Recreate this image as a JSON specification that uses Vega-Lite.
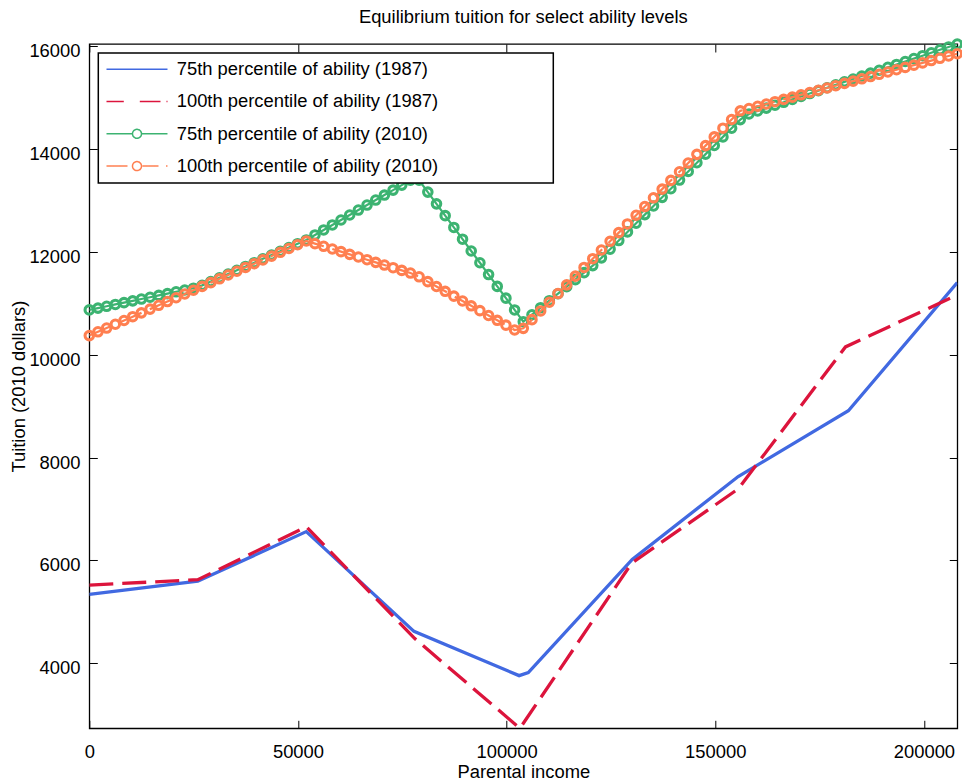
{
  "$schema": "https://vega.github.io/schema/vega-lite/v6.json",
  "autosize": {"type": "none"},
  "padding": {"left": 89.3, "top": 44, "right": 5, "bottom": 56},
  "width": 868,
  "height": 684.3,
  "background": "white",
  "view": {"stroke": "black", "strokeWidth": 1.3},
  "title": {"text": "Equilibrium tuition for select ability levels", "fontSize": 18.4, "font": "Liberation Sans", "fontWeight": "normal", "color": "black", "anchor": "middle", "offset": -8, "baseline": "alphabetic"},
  "datasets": {
    "d1987": [
      {"income": 0, "tuition": 5340, "series": "p75_1987"},
      {"income": 26000, "tuition": 5595, "series": "p75_1987"},
      {"income": 52000, "tuition": 6560, "series": "p75_1987"},
      {"income": 77800, "tuition": 4620, "series": "p75_1987"},
      {"income": 103000, "tuition": 3760, "series": "p75_1987"},
      {"income": 105200, "tuition": 3820, "series": "p75_1987"},
      {"income": 130100, "tuition": 6020, "series": "p75_1987"},
      {"income": 155500, "tuition": 7630, "series": "p75_1987"},
      {"income": 181900, "tuition": 8910, "series": "p75_1987"},
      {"income": 208000, "tuition": 11400, "series": "p75_1987"},
      {"income": 0, "tuition": 5520, "series": "p100_1987"},
      {"income": 26000, "tuition": 5625, "series": "p100_1987"},
      {"income": 52000, "tuition": 6655, "series": "p100_1987"},
      {"income": 78000, "tuition": 4480, "series": "p100_1987"},
      {"income": 103200, "tuition": 2736, "series": "p100_1987"},
      {"income": 130000, "tuition": 5950, "series": "p100_1987"},
      {"income": 155500, "tuition": 7390, "series": "p100_1987"},
      {"income": 181200, "tuition": 10150, "series": "p100_1987"},
      {"income": 208000, "tuition": 11160, "series": "p100_1987"}
    ],
    "d2010": [
      {"income": 0, "p75_2010": 10870, "p100_2010": 10370},
      {"income": 2080, "p75_2010": 10905, "p100_2010": 10444},
      {"income": 4160, "p75_2010": 10940, "p100_2010": 10517},
      {"income": 6240, "p75_2010": 10976, "p100_2010": 10591},
      {"income": 8320, "p75_2010": 11011, "p100_2010": 10664},
      {"income": 10400, "p75_2010": 11046, "p100_2010": 10738},
      {"income": 12480, "p75_2010": 11081, "p100_2010": 10812},
      {"income": 14560, "p75_2010": 11116, "p100_2010": 10885},
      {"income": 16640, "p75_2010": 11152, "p100_2010": 10959},
      {"income": 18720, "p75_2010": 11187, "p100_2010": 11032},
      {"income": 20800, "p75_2010": 11222, "p100_2010": 11106},
      {"income": 22880, "p75_2010": 11257, "p100_2010": 11180},
      {"income": 24960, "p75_2010": 11292, "p100_2010": 11253},
      {"income": 27040, "p75_2010": 11347, "p100_2010": 11327},
      {"income": 29120, "p75_2010": 11420, "p100_2010": 11400},
      {"income": 31200, "p75_2010": 11494, "p100_2010": 11474},
      {"income": 33280, "p75_2010": 11568, "p100_2010": 11548},
      {"income": 35360, "p75_2010": 11641, "p100_2010": 11621},
      {"income": 37440, "p75_2010": 11715, "p100_2010": 11695},
      {"income": 39520, "p75_2010": 11788, "p100_2010": 11768},
      {"income": 41600, "p75_2010": 11862, "p100_2010": 11842},
      {"income": 43680, "p75_2010": 11936, "p100_2010": 11916},
      {"income": 45760, "p75_2010": 12009, "p100_2010": 11989},
      {"income": 47840, "p75_2010": 12083, "p100_2010": 12063},
      {"income": 49920, "p75_2010": 12157, "p100_2010": 12137},
      {"income": 52000, "p75_2010": 12230, "p100_2010": 12210},
      {"income": 54080, "p75_2010": 12327, "p100_2010": 12158},
      {"income": 56160, "p75_2010": 12424, "p100_2010": 12106},
      {"income": 58240, "p75_2010": 12521, "p100_2010": 12054},
      {"income": 60320, "p75_2010": 12618, "p100_2010": 12002},
      {"income": 62400, "p75_2010": 12715, "p100_2010": 11950},
      {"income": 64480, "p75_2010": 12811, "p100_2010": 11898},
      {"income": 66560, "p75_2010": 12908, "p100_2010": 11846},
      {"income": 68640, "p75_2010": 13005, "p100_2010": 11794},
      {"income": 70720, "p75_2010": 13102, "p100_2010": 11742},
      {"income": 72800, "p75_2010": 13199, "p100_2010": 11690},
      {"income": 74880, "p75_2010": 13296, "p100_2010": 11638},
      {"income": 76960, "p75_2010": 13393, "p100_2010": 11586},
      {"income": 79040, "p75_2010": 13390, "p100_2010": 11513},
      {"income": 81120, "p75_2010": 13160, "p100_2010": 11419},
      {"income": 83200, "p75_2010": 12931, "p100_2010": 11325},
      {"income": 85280, "p75_2010": 12702, "p100_2010": 11231},
      {"income": 87360, "p75_2010": 12473, "p100_2010": 11137},
      {"income": 89440, "p75_2010": 12244, "p100_2010": 11043},
      {"income": 91520, "p75_2010": 12015, "p100_2010": 10949},
      {"income": 93600, "p75_2010": 11786, "p100_2010": 10855},
      {"income": 95680, "p75_2010": 11557, "p100_2010": 10761},
      {"income": 97760, "p75_2010": 11327, "p100_2010": 10667},
      {"income": 99840, "p75_2010": 11098, "p100_2010": 10573},
      {"income": 101920, "p75_2010": 10869, "p100_2010": 10479},
      {"income": 104000, "p75_2010": 10640, "p100_2010": 10511},
      {"income": 106080, "p75_2010": 10776, "p100_2010": 10680},
      {"income": 108160, "p75_2010": 10913, "p100_2010": 10850},
      {"income": 110240, "p75_2010": 11049, "p100_2010": 11019},
      {"income": 112320, "p75_2010": 11185, "p100_2010": 11188},
      {"income": 114400, "p75_2010": 11322, "p100_2010": 11357},
      {"income": 116480, "p75_2010": 11458, "p100_2010": 11526},
      {"income": 118560, "p75_2010": 11594, "p100_2010": 11695},
      {"income": 120640, "p75_2010": 11731, "p100_2010": 11865},
      {"income": 122720, "p75_2010": 11882, "p100_2010": 12034},
      {"income": 124800, "p75_2010": 12050, "p100_2010": 12203},
      {"income": 126880, "p75_2010": 12218, "p100_2010": 12372},
      {"income": 128960, "p75_2010": 12386, "p100_2010": 12541},
      {"income": 131040, "p75_2010": 12554, "p100_2010": 12710},
      {"income": 133120, "p75_2010": 12722, "p100_2010": 12879},
      {"income": 135200, "p75_2010": 12890, "p100_2010": 13049},
      {"income": 137280, "p75_2010": 13058, "p100_2010": 13218},
      {"income": 139360, "p75_2010": 13226, "p100_2010": 13387},
      {"income": 141440, "p75_2010": 13394, "p100_2010": 13556},
      {"income": 143520, "p75_2010": 13562, "p100_2010": 13725},
      {"income": 145600, "p75_2010": 13730, "p100_2010": 13894},
      {"income": 147680, "p75_2010": 13898, "p100_2010": 14063},
      {"income": 149760, "p75_2010": 14066, "p100_2010": 14233},
      {"income": 151840, "p75_2010": 14233, "p100_2010": 14402},
      {"income": 153920, "p75_2010": 14401, "p100_2010": 14571},
      {"income": 156000, "p75_2010": 14569, "p100_2010": 14740},
      {"income": 158080, "p75_2010": 14679, "p100_2010": 14784},
      {"income": 160160, "p75_2010": 14736, "p100_2010": 14829},
      {"income": 162240, "p75_2010": 14793, "p100_2010": 14873},
      {"income": 164320, "p75_2010": 14849, "p100_2010": 14917},
      {"income": 166400, "p75_2010": 14906, "p100_2010": 14962},
      {"income": 168480, "p75_2010": 14963, "p100_2010": 15006},
      {"income": 170560, "p75_2010": 15019, "p100_2010": 15051},
      {"income": 172640, "p75_2010": 15076, "p100_2010": 15095},
      {"income": 174720, "p75_2010": 15133, "p100_2010": 15140},
      {"income": 176800, "p75_2010": 15189, "p100_2010": 15184},
      {"income": 178880, "p75_2010": 15246, "p100_2010": 15228},
      {"income": 180960, "p75_2010": 15303, "p100_2010": 15273},
      {"income": 183040, "p75_2010": 15359, "p100_2010": 15317},
      {"income": 185120, "p75_2010": 15416, "p100_2010": 15362},
      {"income": 187200, "p75_2010": 15472, "p100_2010": 15406},
      {"income": 189280, "p75_2010": 15529, "p100_2010": 15450},
      {"income": 191360, "p75_2010": 15586, "p100_2010": 15495},
      {"income": 193440, "p75_2010": 15642, "p100_2010": 15539},
      {"income": 195520, "p75_2010": 15699, "p100_2010": 15584},
      {"income": 197600, "p75_2010": 15756, "p100_2010": 15628},
      {"income": 199680, "p75_2010": 15812, "p100_2010": 15672},
      {"income": 201760, "p75_2010": 15869, "p100_2010": 15717},
      {"income": 203840, "p75_2010": 15926, "p100_2010": 15761},
      {"income": 205920, "p75_2010": 15982, "p100_2010": 15806},
      {"income": 208000, "p75_2010": 16039, "p100_2010": 15850}
    ]
  },
  "resolve": {"axis": {"x": "independent", "y": "independent"}},
  "layer": [
    {
      "data": {"name": "d1987"},
      "transform": [{"filter": "datum.series == 'p75_1987'"}],
      "mark": {"type": "line", "strokeWidth": 3.3, "clip": true},
      "encoding": {
        "x": {"field": "income", "type": "quantitative", "scale": {"domain": [0, 208000], "nice": false, "zero": false},
              "axis": {"orient": "bottom", "title": "Parental income", "values": [0, 50000, 100000, 150000, 200000], "format": "d", "domain": false, "grid": false, "tickSize": -8, "tickColor": "black", "tickWidth": 1, "labelFlush": false, "labelPadding": 22.4, "labelFontSize": 18.4, "labelFont": "Liberation Sans", "labelColor": "black", "titleFontSize": 18.4, "titleFont": "Liberation Sans", "titleFontWeight": "normal", "titleColor": "black", "titlePadding": 1}},
        "y": {"field": "tuition", "type": "quantitative", "scale": {"domain": [2736, 16039], "nice": false, "zero": false},
              "axis": {"orient": "left", "title": "Tuition (2010 dollars)", "values": [4000, 6000, 8000, 10000, 12000, 14000, 16000], "format": "d", "domain": false, "grid": false, "tickSize": -8, "tickColor": "black", "tickWidth": 1, "labelFlush": false, "labelPadding": 17.3, "labelOffset": 4.5, "labelFontSize": 18.4, "labelFont": "Liberation Sans", "labelColor": "black", "titleFontSize": 18.4, "titleFont": "Liberation Sans", "titleFontWeight": "normal", "titleColor": "black", "titlePadding": 0}},
        "color": {"field": "series", "type": "nominal",
                  "scale": {"domain": ["p75_1987", "p100_1987", "p75_2010", "p100_2010"], "range": ["#4169E1", "#DC143C", "#3CB371", "#FF7F50"]},
                  "legend": {"title": null, "orient": "top-left", "offset": 9, "padding": 7, "rowPadding": 13.3,
                             "strokeColor": "black", "fillColor": "white", "symbolSize": 100, "symbolStrokeWidth": 1.5,
                             "labelOffset": 53, "labelFontSize": 18.4, "labelFont": "Liberation Sans", "labelColor": "black", "labelLimit": 0,
                             "labelExpr": "datum.value == 'p75_1987' ? '75th percentile of ability (1987)' : datum.value == 'p100_1987' ? '100th percentile of ability (1987)' : datum.value == 'p75_2010' ? '75th percentile of ability (2010)' : '100th percentile of ability (2010)\u00a0\u00a0\u00a0\u00a0\u00a0\u00a0\u00a0\u00a0\u00a0\u00a0\u00a0\u00a0\u00a0\u00a0\u00a0\u00a0\u00a0\u00a0\u00a0\u00a0\u00a0\u200b'",
                             "encode": {
                               "legend": {"update": {"stroke": {"value": "black"}, "strokeWidth": {"value": 1.5}, "fill": {"value": "white"}}},
                               "symbols": {"update": {
                                 "shape": {"signal": "datum.value == 'p75_1987' ? 'M-1.6,0H10.6' : datum.value == 'p100_1987' ? 'M-1.6,0H1.86M5.06,0H9.2M10.4,0H10.6' : datum.value == 'p75_2010' ? 'M-1.6,0H3.6M5.4,0H10.6M5.4,0A0.9,0.9 0 1,0 3.6,0A0.9,0.9 0 1,0 5.4,0' : 'M-1.6,0H2.6M5.6,0H8.8M10.3,0H10.6M5.4,0A0.9,0.9 0 1,0 3.6,0A0.9,0.9 0 1,0 5.4,0'"},
                                 "strokeWidth": {"value": 1.5},
                                 "strokeDash": {"value": [1, 0]},
                                 "fill": {"value": "transparent"}
                               }}
                             }}}
      }
    },
    {
      "data": {"name": "d1987"},
      "transform": [{"filter": "datum.series == 'p100_1987'"}],
      "mark": {"type": "line", "strokeWidth": 3.3, "strokeDash": [24, 9], "clip": true},
      "encoding": {
        "x": {"field": "income", "type": "quantitative", "scale": {"domain": [0, 208000], "nice": false, "zero": false},
              "axis": {"orient": "top", "title": null, "labels": false, "values": [0, 50000, 100000, 150000, 200000], "domain": false, "grid": false, "tickSize": -8, "tickColor": "black", "tickWidth": 1}},
        "y": {"field": "tuition", "type": "quantitative", "scale": {"domain": [2736, 16039], "nice": false, "zero": false},
              "axis": {"orient": "right", "title": null, "labels": false, "values": [4000, 6000, 8000, 10000, 12000, 14000, 16000], "domain": false, "grid": false, "tickSize": -8, "tickColor": "black", "tickWidth": 1}},
        "color": {"field": "series", "type": "nominal", "scale": {"domain": ["p75_1987", "p100_1987", "p75_2010", "p100_2010"], "range": ["#4169E1", "#DC143C", "#3CB371", "#FF7F50"]}, "legend": null}
      }
    },
    {
      "data": {"name": "d2010"},
      "transform": [{"fold": ["p75_2010", "p100_2010"], "as": ["series", "tuition"]}, {"filter": "datum.series == 'p75_2010'"}],
      "mark": {"type": "line", "strokeWidth": 2.2, "clip": true},
      "encoding": {
        "x": {"field": "income", "type": "quantitative", "axis": null},
        "y": {"field": "tuition", "type": "quantitative", "axis": null},
        "color": {"field": "series", "type": "nominal", "scale": {"domain": ["p75_1987", "p100_1987", "p75_2010", "p100_2010"], "range": ["#4169E1", "#DC143C", "#3CB371", "#FF7F50"]}, "legend": null}
      }
    },
    {
      "data": {"name": "d2010"},
      "transform": [{"fold": ["p75_2010", "p100_2010"], "as": ["series", "tuition"]}, {"filter": "datum.series == 'p75_2010'"}],
      "mark": {"type": "point", "shape": "circle", "filled": false, "size": 72, "strokeWidth": 3.1, "opacity": 1},
      "encoding": {
        "x": {"field": "income", "type": "quantitative", "axis": null},
        "y": {"field": "tuition", "type": "quantitative", "axis": null},
        "color": {"field": "series", "type": "nominal", "scale": {"domain": ["p75_1987", "p100_1987", "p75_2010", "p100_2010"], "range": ["#4169E1", "#DC143C", "#3CB371", "#FF7F50"]}, "legend": null}
      }
    },
    {
      "data": {"name": "d2010"},
      "transform": [{"fold": ["p75_2010", "p100_2010"], "as": ["series", "tuition"]}, {"filter": "datum.series == 'p100_2010'"}],
      "mark": {"type": "line", "strokeWidth": 2.2, "strokeDash": [24, 9], "clip": true},
      "encoding": {
        "x": {"field": "income", "type": "quantitative", "axis": null},
        "y": {"field": "tuition", "type": "quantitative", "axis": null},
        "color": {"field": "series", "type": "nominal", "scale": {"domain": ["p75_1987", "p100_1987", "p75_2010", "p100_2010"], "range": ["#4169E1", "#DC143C", "#3CB371", "#FF7F50"]}, "legend": null}
      }
    },
    {
      "data": {"name": "d2010"},
      "transform": [{"fold": ["p75_2010", "p100_2010"], "as": ["series", "tuition"]}, {"filter": "datum.series == 'p100_2010'"}],
      "mark": {"type": "point", "shape": "circle", "filled": false, "size": 72, "strokeWidth": 3.1, "opacity": 1},
      "encoding": {
        "x": {"field": "income", "type": "quantitative", "axis": null},
        "y": {"field": "tuition", "type": "quantitative", "axis": null},
        "color": {"field": "series", "type": "nominal", "scale": {"domain": ["p75_1987", "p100_1987", "p75_2010", "p100_2010"], "range": ["#4169E1", "#DC143C", "#3CB371", "#FF7F50"]}, "legend": null}
      }
    }
  ]
}
